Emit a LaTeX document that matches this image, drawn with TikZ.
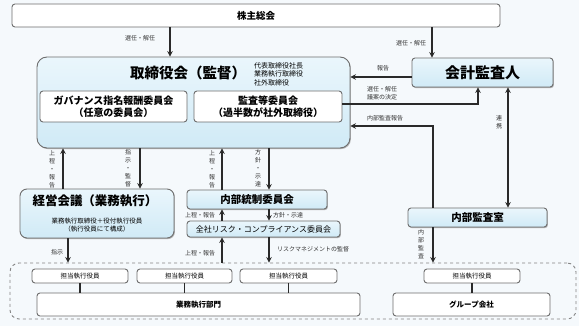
\documentclass[tikz,border=0pt]{standalone}
\usepackage{fontspec}
\setmainfont{Noto Sans CJK JP}
\usetikzlibrary{arrows.meta,shadows}
\definecolor{bgc}{HTML}{F5F9FC}
\definecolor{bordc}{HTML}{6E6E6E}
\definecolor{linec}{HTML}{2A2A2A}
\definecolor{blueT}{HTML}{EAF6FC}
\definecolor{blueB}{HTML}{D0EAF6}
\tikzset{
  px/.style={x=1pt,y=-1pt},
  basebox/.style={draw=bordc,line width=0.9pt,inner sep=0,rounded corners=3pt},
  whitebox/.style={basebox,fill=white},
  bluebox/.style={basebox,top color=blueT,bottom color=blueB,
    drop shadow={shadow xshift=0.9pt,shadow yshift=-1.1pt,fill=gray!75,opacity=0.8}},
  arr/.style={draw=linec,line width=1.2pt,-{Stealth[length=5.5pt,width=5.5pt]}},
  dblarr/.style={draw=linec,line width=1.2pt,{Stealth[length=5.5pt,width=5.5pt]}-{Stealth[length=5.5pt,width=5.5pt]}},
  plainline/.style={draw=linec,line width=1.2pt},
  lbl/.style={inner sep=0,text=black!80,font=\fontsize{6}{7}\selectfont},
  vlbl/.style={inner sep=0,align=center,text=black!80,font=\fontsize{6}{8}\selectfont},
}
\begin{document}
\begin{tikzpicture}[px]
\fill[bgc] (0,0) rectangle (579,326);
\useasboundingbox (0,0) rectangle (579,326);

% boxes
\node[whitebox,minimum width=488pt,minimum height=23pt,font=\fontsize{9.5}{11}\selectfont\bfseries] (kabu) at (256,15.5) {株主総会};
\node[bluebox,rounded corners=10pt,minimum width=313pt,minimum height=91pt] (tori) at (193.5,102.5) {};
\node[inner sep=0,font=\fontsize{14.5}{16}\selectfont\bfseries] (toriT) at (188,73) {取締役会（監督）};
\node[inner sep=0,anchor=west,align=left,font=\fontsize{7}{8.5}\selectfont] (toriS) at (254,74) {代表取締役社長\\業務執行取締役\\社外取締役};
\node[whitebox,minimum width=147pt,minimum height=31pt,align=center,font=\fontsize{10}{12}\selectfont\bfseries] (gov) at (113.5,106.5) {ガバナンス指名報酬委員会\\（任意の委員会）};
\node[whitebox,minimum width=148pt,minimum height=31pt,align=center,font=\fontsize{10}{12}\selectfont\bfseries] (kansa) at (268,106.5) {監査等委員会\\（過半数が社外取締役）};
\node[bluebox,minimum width=141pt,minimum height=29pt,font=\fontsize{15}{17}\selectfont\bfseries] (kaikei) at (482.5,72.5) {会計監査人};
\node[bluebox,rounded corners=7pt,minimum width=154pt,minimum height=49pt] (keiei) at (97,213.5) {};
\node[inner sep=0,font=\fontsize{12.5}{14}\selectfont\bfseries] (keieiT) at (95,201) {経営会議（業務執行）};
\node[inner sep=0,align=center,font=\fontsize{6.5}{8}\selectfont] (keieiS) at (97,225.5) {業務執行取締役＋役付執行役員\\（執行役員にて構成）};
\node[bluebox,minimum width=140pt,minimum height=19pt,font=\fontsize{10.5}{12}\selectfont\bfseries] (naibu) at (257,199.5) {内部統制委員会};
\node[bluebox,minimum width=153pt,minimum height=16pt,font=\fontsize{8}{9}\selectfont] (risk) at (263.5,229) {全社リスク・コンプライアンス委員会};
\node[bluebox,minimum width=139pt,minimum height=19pt,font=\fontsize{10.5}{12}\selectfont\bfseries] (kshitsu) at (477.5,217.5) {内部監査室};

\node[draw=bordc!85,line width=0.9pt,dashed,rounded corners=9pt,minimum width=566pt,minimum height=56pt,inner sep=0] (dash) at (293,291) {};
\node[whitebox,minimum width=96pt,minimum height=14pt,font=\fontsize{6.5}{8}\selectfont] (t1) at (80,276) {担当執行役員};
\node[whitebox,minimum width=95pt,minimum height=14pt,font=\fontsize{6.5}{8}\selectfont] (t2) at (184.5,276) {担当執行役員};
\node[whitebox,minimum width=97pt,minimum height=14pt,font=\fontsize{6.5}{8}\selectfont] (t3) at (288.5,276) {担当執行役員};
\node[whitebox,minimum width=96pt,minimum height=14pt,font=\fontsize{6.5}{8}\selectfont] (t4) at (472,276) {担当執行役員};
\node[whitebox,minimum width=323pt,minimum height=23pt,font=\fontsize{7.5}{9}\selectfont\bfseries] (gyomu) at (198.5,304.5) {業務執行部門};
\node[whitebox,minimum width=157pt,minimum height=23pt,font=\fontsize{7.5}{9}\selectfont\bfseries] (group) at (471.5,304.5) {グループ会社};

% connectors
\draw[arr] (170,0 |- kabu.south) -- (170,0 |- tori.north);
\draw[arr] (432,0 |- kabu.south) -- (432,0 |- kaikei.north);
\draw[arr] (kaikei.west |- 0,77) -- (tori.east |- 0,77);
\draw[arr] (kansa.east |- 0,104) -| (478,0 |- kaikei.south);
\draw[arr] (433,0 |- kshitsu.north) |- (tori.east |- 0,126);
\draw[dblarr] (508,0 |- kaikei.south) -- (508,0 |- kshitsu.north);
\draw[arr] (433,0 |- kshitsu.south) -- (433,0 |- dash.north);
\draw[arr] (63,0 |- keiei.north) -- (63,0 |- tori.south);
\draw[arr] (140,0 |- tori.south) -- (140,0 |- keiei.north);
\draw[arr] (222,0 |- naibu.north) -- (222,0 |- tori.south);
\draw[arr] (269,0 |- tori.south) -- (269,0 |- naibu.north);
\draw[arr] (222,0 |- risk.north) -- (222,0 |- naibu.south);
\draw[arr] (269,0 |- naibu.south) -- (269,0 |- risk.north);
\draw[arr] (222,0 |- dash.north) -- (222,0 |- risk.south);
\draw[arr] (269,0 |- risk.south) -- (269,0 |- dash.north);
\draw[arr] (68,0 |- keiei.south) -- (68,0 |- dash.north);
\draw[plainline] (t1.south) -- (t1.south |- gyomu.north);
\draw[plainline] (t2.south) -- (t2.south |- gyomu.north);
\draw[plainline] (t3.south) -- (t3.south |- gyomu.north);
\draw[plainline] (t4.south) -- (t4.south |- group.north);

% labels
\node[lbl] (l1) at (140,38) {選任・解任};
\node[lbl] (l2) at (411,43) {選任・解任};
\node[lbl] (l3) at (383,68) {報告};
\node[lbl,anchor=west,align=left,font=\fontsize{6}{8.5}\selectfont] (l4) at (367,93) {選任・解任\\議案の決定};
\node[lbl,anchor=west] (l5) at (367,118) {内部監査報告};
\node[vlbl] (l6) at (499,122) {連\\携};
\node[vlbl] (l7) at (52,169) {上\\程\\・\\報\\告};
\node[vlbl] (l8) at (128,168) {指\\示\\・\\監\\督};
\node[vlbl] (l9) at (212,169) {上\\程\\・\\報\\告};
\node[vlbl] (l10) at (258,168) {方\\針\\・\\示\\達};
\node[lbl] (l11) at (200,215) {上程・報告};
\node[lbl,anchor=west] (l12) at (273,215) {方針・示達};
\node[lbl] (l13) at (200,253) {上程・報告};
\node[lbl,anchor=west] (l14) at (277,249.5) {リスクマネジメントの監督};
\node[lbl] (l15) at (57,252) {指示};
\node[vlbl] (l16) at (421,244) {内\\部\\監\\査};
\end{tikzpicture}
\end{document}
